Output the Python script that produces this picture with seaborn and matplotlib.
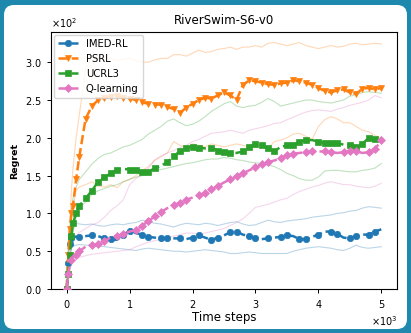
import numpy as np
import pandas as pd
import seaborn as sns
import matplotlib.pyplot as plt
from matplotlib.patches import FancyBboxPatch

# %% data (regret in units of 1e2)
steps = [0, 25, 50, 75, 100, 150, 200] + list(range(300, 5001, 100))

imed_mean = [0, 0.35, 0.6, 0.68, 0.7, 0.69, 0.69, 0.7, 0.71, 0.7, 0.67, 0.66, 0.65, 0.72, 0.77,
             0.74, 0.72, 0.69, 0.68, 0.67, 0.67, 0.67, 0.67, 0.66, 0.68, 0.71, 0.68, 0.65, 0.68,
             0.71, 0.75, 0.76, 0.72, 0.7, 0.67, 0.66, 0.67, 0.68, 0.69, 0.71, 0.7, 0.66, 0.66,
             0.69, 0.72, 0.76, 0.76, 0.73, 0.68, 0.67, 0.7, 0.72, 0.72, 0.76, 0.79]
imed_hi = [0, 0.5, 0.78, 0.86, 0.88, 0.87, 0.86, 0.85, 0.86, 0.84, 0.83, 0.85, 0.86, 0.85, 0.87,
           0.88, 0.91, 0.89, 0.87, 0.86, 0.84, 0.82, 0.85, 0.87, 0.86, 0.85, 0.87, 0.86, 0.84,
           0.86, 0.88, 0.89, 0.86, 0.84, 0.85, 0.88, 0.91, 0.89, 0.88, 0.9, 0.91, 0.92, 0.93,
           0.95, 0.96, 0.97, 0.98, 1.0, 1.01, 1.03, 1.04, 1.07, 1.09, 1.08, 1.07]
imed_lo = [0, 0.2, 0.45, 0.55, 0.57, 0.58, 0.59, 0.58, 0.58, 0.57, 0.56, 0.55, 0.54, 0.53, 0.52,
           0.51, 0.53, 0.54, 0.53, 0.52, 0.51, 0.5, 0.5, 0.49, 0.5, 0.51, 0.52, 0.51, 0.5,
           0.49, 0.47, 0.47, 0.48, 0.49, 0.48, 0.47, 0.47, 0.47, 0.47, 0.47, 0.5, 0.52, 0.54,
           0.55, 0.56, 0.55, 0.54, 0.52, 0.51, 0.54, 0.58, 0.55, 0.54, 0.55, 0.56]

psrl_mean = [0, 0.45, 0.8, 1.0, 1.1, 1.45, 1.75, 2.25, 2.42, 2.5, 2.53, 2.54, 2.55, 2.53, 2.52,
             2.5, 2.47, 2.45, 2.44, 2.44, 2.41, 2.38, 2.33, 2.4, 2.45, 2.5, 2.53, 2.52, 2.56,
             2.6, 2.56, 2.5, 2.7, 2.76, 2.75, 2.73, 2.71, 2.7, 2.72, 2.73, 2.76, 2.75, 2.73,
             2.7, 2.66, 2.62, 2.6, 2.63, 2.64, 2.6, 2.58, 2.65, 2.66, 2.64, 2.66]
psrl_hi = [0, 0.5, 0.9, 1.3, 1.6, 2.0, 2.3, 2.9, 3.08, 3.06, 3.07, 3.05, 3.02, 3.04, 3.05,
           3.02, 3.0, 3.0, 3.03, 3.05, 3.05, 3.1, 3.1, 3.08, 3.12, 3.16, 3.13, 3.14, 3.17,
           3.18, 3.2, 3.17, 3.2, 3.2, 3.22, 3.2, 3.25, 3.26, 3.24, 3.22, 3.24, 3.26, 3.22,
           3.2, 3.18, 3.2, 3.22, 3.2, 3.21, 3.24, 3.25, 3.23, 3.24, 3.25, 3.24]
psrl_lo = [0, 0.3, 0.6, 0.9, 1.1, 1.3, 1.35, 1.38, 1.42, 1.36, 1.35, 1.38, 1.34, 1.42, 1.45,
           1.5, 1.57, 1.62, 1.7, 1.75, 1.8, 1.95, 1.9, 1.88, 1.92, 1.9, 1.88, 1.92, 1.9,
           1.88, 1.9, 1.92, 1.9, 1.88, 1.87, 1.88, 1.86, 1.95, 1.97, 2.0, 2.05, 2.06, 2.02,
           1.98, 2.15, 2.24, 2.28, 2.25, 2.2, 2.2, 2.15, 2.1, 2.08, 2.03, 2.0]

ucrl_mean = [0, 0.2, 0.45, 0.7, 0.87, 1.0, 1.1, 1.2, 1.3, 1.42, 1.48, 1.53, 1.58, 1.59, 1.58,
             1.57, 1.55, 1.55, 1.6, 1.63, 1.68, 1.76, 1.82, 1.87, 1.88, 1.87, 1.86, 1.87, 1.83,
             1.81, 1.8, 1.8, 1.82, 1.88, 1.92, 1.9, 1.86, 1.82, 1.88, 1.9, 1.9, 1.95, 1.97,
             1.97, 1.95, 1.93, 1.93, 1.93, 1.91, 1.9, 1.88, 1.92, 2.0, 1.98, 1.96]
ucrl_hi = [0, 0.35, 0.7, 1.0, 1.2, 1.35, 1.45, 1.55, 1.65, 1.73, 1.78, 1.8, 1.84, 1.88, 1.9,
           1.94, 1.98, 2.05, 2.1, 2.15, 2.22, 2.25, 2.2, 2.16, 2.18, 2.22, 2.28, 2.35, 2.4,
           2.45, 2.48, 2.42, 2.4, 2.42, 2.43, 2.47, 2.52, 2.48, 2.42, 2.44, 2.46, 2.48, 2.5,
           2.5, 2.48, 2.47, 2.46, 2.48, 2.5, 2.55, 2.57, 2.6, 2.61, 2.6, 2.59]
ucrl_lo = [0, 0.1, 0.3, 0.55, 0.75, 0.95, 1.07, 1.15, 1.25, 1.3, 1.33, 1.36, 1.38, 1.42, 1.45,
           1.48, 1.5, 1.53, 1.57, 1.58, 1.6, 1.62, 1.64, 1.66, 1.67, 1.69, 1.71, 1.72, 1.72,
           1.74, 1.73, 1.71, 1.7, 1.68, 1.67, 1.66, 1.64, 1.62, 1.58, 1.53, 1.5, 1.46, 1.44,
           1.44, 1.48, 1.56, 1.57, 1.57, 1.56, 1.55, 1.55, 1.57, 1.58, 1.6, 1.66]

qlearn_mean = [0, 0.2, 0.32, 0.38, 0.42, 0.45, 0.5, 0.56, 0.58, 0.6, 0.64, 0.68, 0.7, 0.73, 0.76,
               0.78, 0.84, 0.9, 0.96, 1.02, 1.07, 1.11, 1.14, 1.18, 1.21, 1.24, 1.27, 1.32, 1.36,
               1.41, 1.45, 1.49, 1.53, 1.57, 1.61, 1.65, 1.68, 1.7, 1.73, 1.77, 1.79, 1.8, 1.81,
               1.82, 1.82, 1.82, 1.81, 1.8, 1.81, 1.82, 1.82, 1.8, 1.81, 1.85, 1.97]
qlearn_hi = [0, 0.3, 0.45, 0.55, 0.62, 0.7, 0.75, 0.8, 0.85, 0.88, 0.95, 1.04, 1.1, 1.18, 1.38,
             1.46, 1.52, 1.6, 1.71, 1.76, 1.8, 1.83, 1.87, 1.9, 1.95, 1.98, 2.02, 2.06, 2.07,
             2.08, 2.1, 2.08, 2.06, 2.1, 2.12, 2.14, 2.16, 2.19, 2.2, 2.24, 2.27, 2.31, 2.34,
             2.36, 2.37, 2.36, 2.35, 2.38, 2.4, 2.43, 2.45, 2.47, 2.5, 2.56, 2.53]
qlearn_lo = [0, 0.15, 0.25, 0.32, 0.36, 0.4, 0.42, 0.44, 0.46, 0.47, 0.48, 0.49, 0.5, 0.51, 0.52,
             0.56, 0.59, 0.62, 0.64, 0.66, 0.68, 0.7, 0.72, 0.74, 0.74, 0.73, 0.74, 0.76, 0.78,
             0.8, 0.84, 0.88, 0.93, 1.0, 1.08, 1.1, 1.12, 1.15, 1.18, 1.2, 1.25, 1.29, 1.32,
             1.35, 1.37, 1.4, 1.42, 1.4, 1.38, 1.38, 1.36, 1.35, 1.34, 1.36, 1.4]

algos = ['IMED-RL', 'PSRL', 'UCRL3', 'Q-learning']
means = [imed_mean, psrl_mean, ucrl_mean, qlearn_mean]
uppers = [imed_hi, psrl_hi, ucrl_hi, qlearn_hi]
lowers = [imed_lo, psrl_lo, ucrl_lo, qlearn_lo]

colors = ['#1f77b4', '#ff7f0e', '#2ca02c', '#e377c2']
markers = ['o', 'v', 's', 'D']
mark_size = [4.6, 4.8, 4.3, 4.3]
mark_every = [0.024, 0.015, 0.019, 0.021]

# %% figure
fig = plt.figure(figsize=(4.11, 3.33), dpi=100, facecolor='#1f89ad')
card = FancyBboxPatch((4, 4), 403, 324, boxstyle='round,pad=0,rounding_size=10',
                      transform=None, facecolor='white', edgecolor='none', zorder=-10)
fig.patches.append(card)
ax = fig.add_axes([0.124, 0.132, 0.842, 0.772])

for name, m, hi, lo, c, mk, ms, me in zip(algos, means, uppers, lowers, colors,
                                          markers, mark_size, mark_every):
    for band in (hi, lo):
        sns.lineplot(x=steps, y=np.array(band) * 100, color=c, alpha=0.3, lw=0.8,
                     legend=False, ax=ax, zorder=1)
    sns.lineplot(x=steps, y=np.array(m) * 100, color=c, marker=mk, markersize=ms,
                 markeredgecolor=c, markeredgewidth=0.5, markevery=me,
                 linestyle='--', lw=1.8, label=name, ax=ax, zorder=3)

ax.set_ylim(0, 340)
ax.set_xlim(-250, 5250)
ax.ticklabel_format(style='sci', scilimits=(0, 0), useMathText=True)
ax.tick_params(labelsize=7, length=3, width=0.7)
ax.xaxis.get_offset_text().set_fontsize(7)
ax.yaxis.get_offset_text().set_fontsize(7)
ax.set_title('RiverSwim-S6-v0', fontsize=8.5)
ax.set_xlabel('Time steps', fontsize=8.5, labelpad=1)
ax.set_ylabel('Regret', fontsize=6.8, fontweight='bold', labelpad=4)
ax.legend(loc='upper left', fontsize=7.2, handlelength=2, borderaxespad=0.3)

plt.savefig('out.png', dpi=100, facecolor=fig.get_facecolor())
